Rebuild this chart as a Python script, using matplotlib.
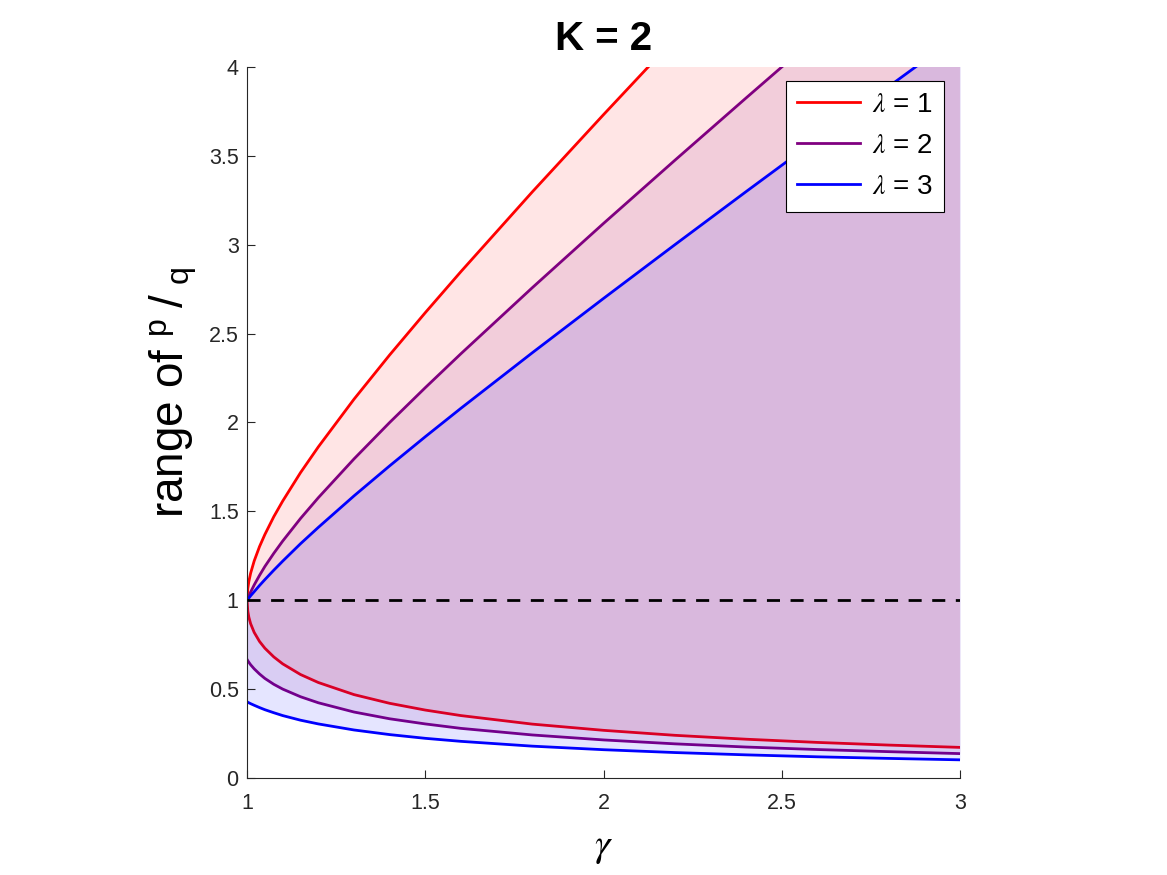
import numpy as np
import matplotlib
matplotlib.use('Agg')
import matplotlib.pyplot as plt

# gamma grid and p/q bounds (one pair of curves per lambda)
gamma = [1.000, 1.002, 1.005, 1.01, 1.02, 1.035, 1.05, 1.075, 1.1, 1.15, 1.2,
         1.3, 1.4, 1.5, 1.6, 1.8, 2.0, 2.2, 2.4, 2.6, 2.8, 3.0]

upper_l1 = [1.000, 1.065, 1.105, 1.152, 1.221, 1.302, 1.370, 1.470, 1.558, 1.718, 1.863,
            2.131, 2.380, 2.618, 2.849, 3.297, 3.732, 4.160, 4.582, 5.000, 5.415, 5.828]
lower_l1 = [1.000, 0.939, 0.905, 0.868, 0.819, 0.768, 0.730, 0.681, 0.642, 0.582, 0.537,
            0.469, 0.420, 0.382, 0.351, 0.303, 0.268, 0.240, 0.218, 0.200, 0.185, 0.172]

upper_l2 = [1.000, 1.010, 1.024, 1.046, 1.086, 1.140, 1.190, 1.264, 1.333, 1.460, 1.577,
            1.795, 2.000, 2.196, 2.387, 2.758, 3.120, 3.475, 3.826, 4.174, 4.519, 4.863]
lower_l2 = [0.667, 0.660, 0.651, 0.637, 0.614, 0.585, 0.560, 0.527, 0.500, 0.457, 0.423,
            0.371, 0.333, 0.304, 0.279, 0.242, 0.214, 0.192, 0.174, 0.160, 0.148, 0.137]

upper_l3 = [1.000, 1.005, 1.012, 1.025, 1.048, 1.083, 1.116, 1.169, 1.220, 1.318, 1.410,
            1.587, 1.756, 1.920, 2.080, 2.392, 2.698, 3.000, 3.299, 3.595, 3.890, 4.183]
lower_l3 = [0.429, 0.426, 0.423, 0.418, 0.409, 0.396, 0.384, 0.367, 0.351, 0.325, 0.304,
            0.270, 0.244, 0.223, 0.206, 0.179, 0.159, 0.143, 0.130, 0.119, 0.110, 0.102]

labels = [r'$\lambda$ = 1', r'$\lambda$ = 2', r'$\lambda$ = 3']
colors = ['#ff0000', '#800080', '#0000ff']

plt.rcParams['font.family'] = ['Liberation Sans', 'DejaVu Sans']
plt.rcParams['mathtext.fontset'] = 'custom'
plt.rcParams['mathtext.rm'] = 'Liberation Sans'
plt.rcParams['mathtext.sf'] = 'Liberation Sans'
plt.rcParams['mathtext.it'] = 'STIXGeneral:italic'

fig = plt.figure(figsize=(11.67, 8.75), dpi=100)
ax = fig.add_axes([0.2117, 0.1109, 0.6109, 0.8125])

uppers = [upper_l1, upper_l2, upper_l3]
lowers = [lower_l1, lower_l2, lower_l3]
handles = []
for i in range(3):
    z = 1 + 0.2 * i
    ax.fill_between(gamma, lowers[i], uppers[i], color=colors[i], alpha=0.1,
                    linewidth=0, zorder=z)
    h, = ax.plot(gamma, uppers[i], color=colors[i], lw=2, zorder=z + 0.1, label=labels[i])
    ax.plot(gamma, lowers[i], color=colors[i], lw=2, zorder=z + 0.1)
    handles.append(h)

ax.plot([1, 3], [1, 1], color='black', lw=2, dashes=(4.7, 3.8), zorder=3)

ax.set_xlim(1, 3)
ax.set_ylim(0, 4)
ax.set_xticks([1, 1.5, 2, 2.5, 3])
ax.set_xticklabels(['1', '1.5', '2', '2.5', '3'])
ax.set_yticks(np.arange(0, 4.01, 0.5))
ax.set_yticklabels(['0', '0.5', '1', '1.5', '2', '2.5', '3', '3.5', '4'])

for s in ['top', 'right']:
    ax.spines[s].set_visible(False)
for s in ['left', 'bottom']:
    ax.spines[s].set_color('#262626')
    ax.spines[s].set_linewidth(0.8)
ax.tick_params(direction='in', length=5.5, width=0.8, color='#262626',
               labelcolor='#262626', labelsize=15.5)
ax.tick_params(axis='x', pad=11)
ax.tick_params(axis='y', pad=6)

ax.set_title('K = 2', fontsize=29, fontweight='bold', pad=12)
ax.set_xlabel(r'$\gamma$', fontsize=28)
ax.xaxis.set_label_coords(0.5, -0.073)
ax.set_ylabel(r'range of ${}^{\mathrm{p}}\;/\;{}_{\mathrm{q}}$', fontsize=33)
ax.yaxis.set_label_coords(-0.069, 0.543)

leg = ax.legend(handles=handles, loc='upper right', bbox_to_anchor=(0.978, 0.9807),
                fontsize=20, handlelength=2.27, handletextpad=0.43, labelspacing=0.54,
                borderpad=0.41, borderaxespad=0, fancybox=False, framealpha=1,
                edgecolor='black')
leg.get_frame().set_linewidth(0.8)

fig.savefig('out.png', dpi=100)
